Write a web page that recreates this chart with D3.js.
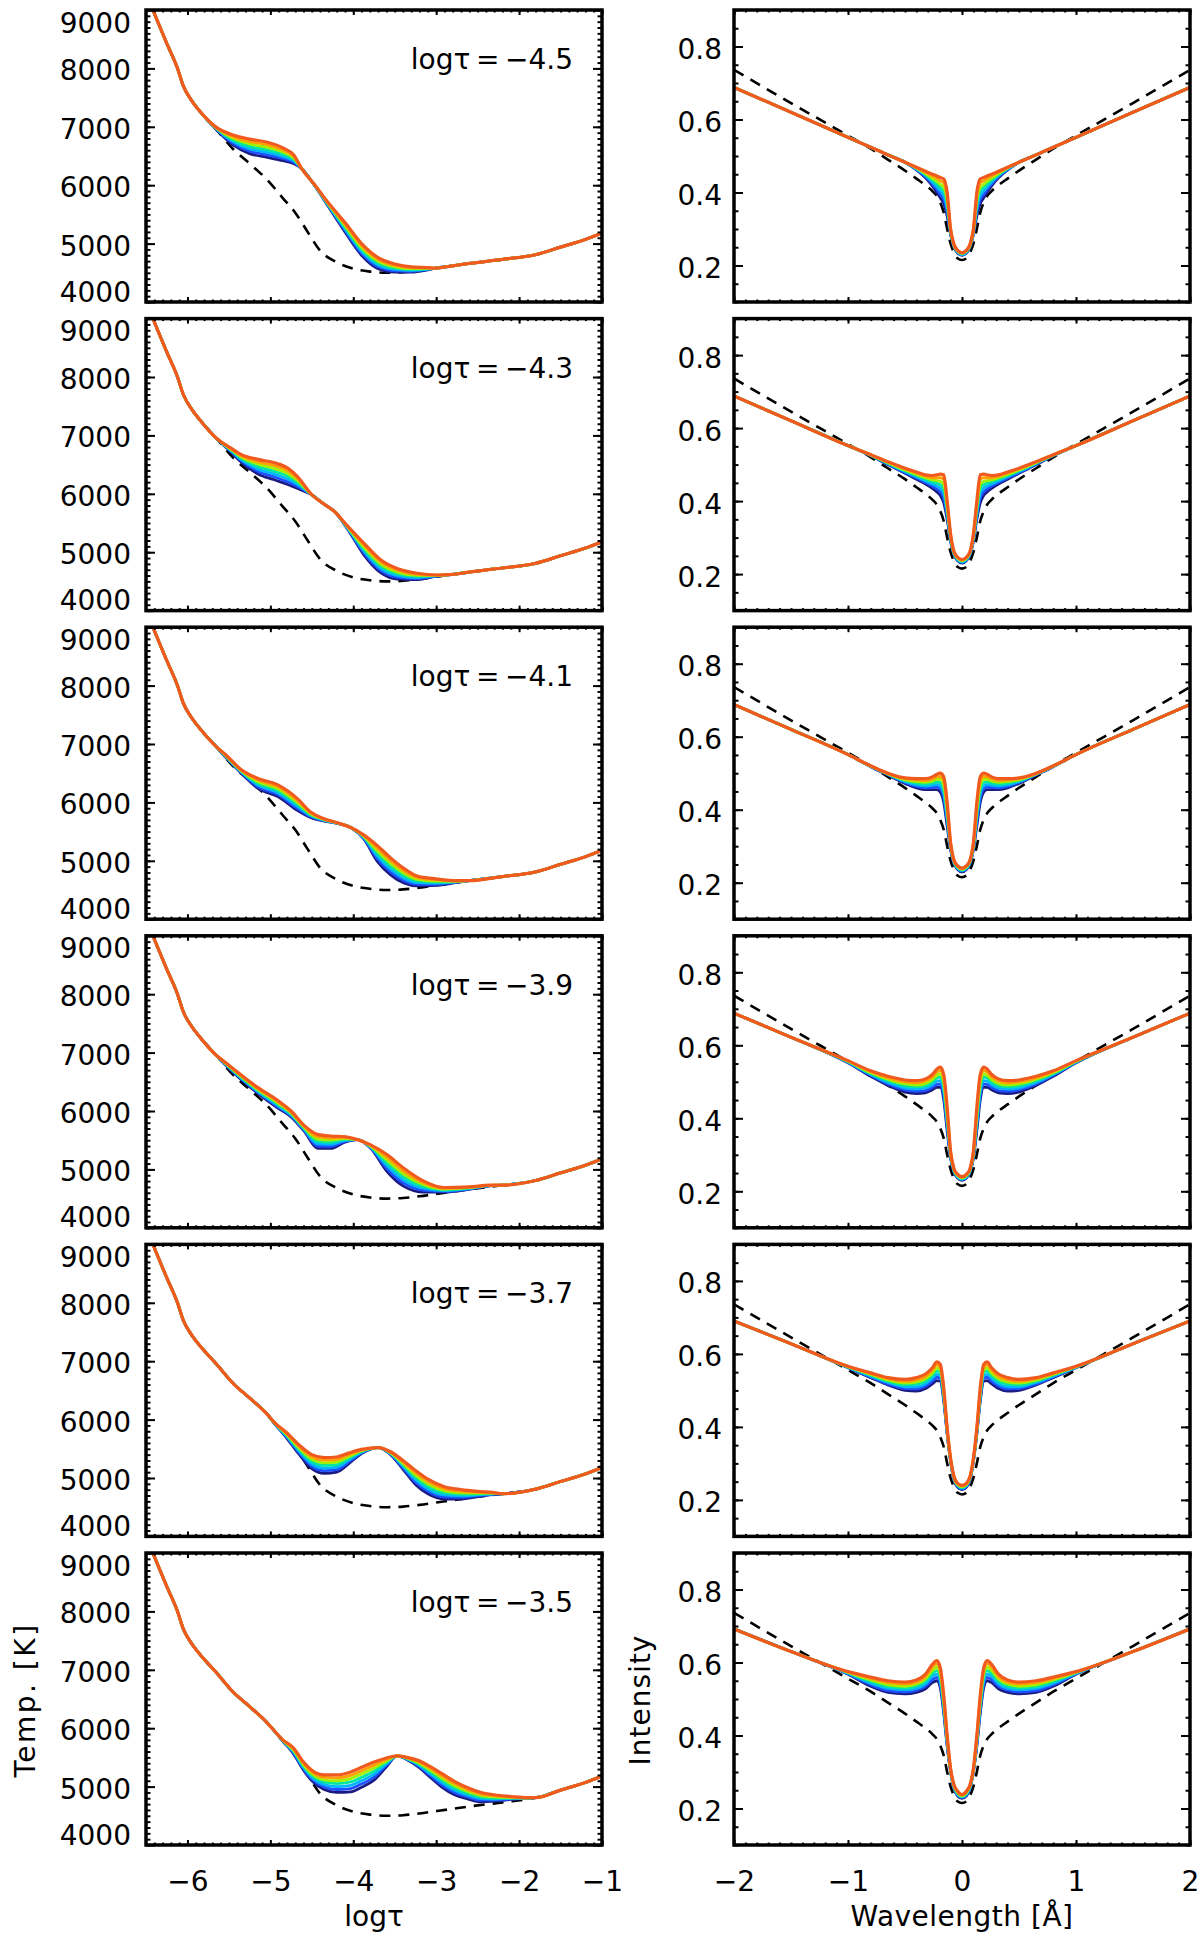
<!DOCTYPE html>
<html><head><meta charset="utf-8">
<script src="https://cdn.jsdelivr.net/npm/d3@7"></script>
<style>
body{margin:0;background:#fff}
svg text{font-family:"DejaVu Sans",sans-serif;fill:#000}
</style>
</head><body>
<svg id="c" width="1200" height="1939"></svg>
<script>
// ---------- DATA ----------
// Tick labels / values
const tempTicks = [4000,5000,6000,7000,8000,9000];
const tauTicks = [-6,-5,-4,-3,-2,-1];
const intTicks = [0.2,0.4,0.6,0.8];
const lamTicks = [-2,-1,0,1,2];
const nodeLabels = ["−4.5","−4.3","−4.1","−3.9","−3.7","−3.5"];

// Reference (dashed) temperature stratification
const tauBase  = [-6.5,-6.25,-6.12,-6.05,-5.95,-5.85,-5.65,-5.45,-5.25,-5.05,-4.85,-4.7,-4.55,-4.4,-4.2,-4.0,-3.8,-3.6,-3.4,-3.2,-3.0,-2.8,-2.6,-2.2,-1.8,-1.5,-1.2,-1.0];
const tempBase = [9290,8430,8000,7700,7450,7265,6950,6620,6370,6110,5780,5530,5200,4880,4680,4570,4520,4500,4510,4540,4580,4620,4660,4730,4810,4940,5070,5180];

// Perturbed temperature curves (7 per panel, lowest -> highest), on panel grids
const tauP1 = [-5.65,-5.45,-5.25,-5.05,-4.85,-4.72,-4.62,-4.45,-4.33,-4.1,-3.9,-3.7,-3.5,-3.3,-3.1];
const tempP1 = [
 [6950,6690,6540,6480,6420,6370,6280,5960,5700,5200,4800,4570,4510,4510,4550],
 [6957,6718,6582,6523,6457,6395,6280,5963,5708,5227,4833,4602,4533,4525,4557],
 [6963,6747,6623,6567,6493,6420,6280,5967,5717,5253,4867,4633,4557,4540,4563],
 [6970,6775,6665,6610,6530,6445,6280,5970,5725,5280,4900,4665,4580,4555,4570],
 [6977,6803,6707,6653,6567,6470,6280,5973,5733,5307,4933,4697,4603,4570,4577],
 [6983,6832,6748,6697,6603,6495,6280,5977,5742,5333,4967,4728,4627,4585,4583],
 [6990,6860,6790,6740,6640,6520,6280,5980,5750,5360,5000,4760,4650,4600,4590]];
const tauP2 = [-5.45,-5.35,-5.15,-4.95,-4.79,-4.67,-4.51,-4.35,-4.23,-4.07,-3.87,-3.67,-3.47,-3.23,-2.99];
const tempP2 = [
 [6680,6540,6340,6240,6160,6090,5990,5820,5700,5400,4950,4650,4540,4530,4590],
 [6693,6562,6382,6288,6207,6123,5992,5820,5700,5408,4983,4687,4570,4548,4593],
 [6707,6583,6423,6337,6253,6157,5993,5820,5700,5417,5017,4723,4600,4567,4597],
 [6720,6605,6465,6385,6300,6190,5995,5820,5700,5425,5050,4760,4630,4585,4600],
 [6733,6627,6507,6433,6347,6223,5997,5820,5700,5433,5083,4797,4660,4603,4603],
 [6747,6648,6548,6482,6393,6257,5998,5820,5700,5442,5117,4833,4690,4622,4607],
 [6760,6670,6590,6530,6440,6290,6000,5820,5700,5450,5150,4870,4720,4640,4610]];
const tauP3 = [-5.55,-5.35,-5.15,-4.91,-4.67,-4.51,-4.35,-4.19,-4.03,-3.87,-3.71,-3.55,-3.39,-3.23,-3.0,-2.75];
const tempP3 = [
 [6790,6500,6240,6100,5860,5740,5680,5640,5570,5370,4990,4760,4620,4570,4580,4630],
 [6797,6510,6268,6133,5893,5755,5687,5642,5570,5382,5035,4808,4662,4598,4598,4635],
 [6803,6520,6297,6167,5927,5770,5693,5643,5570,5393,5080,4857,4703,4627,4617,4640],
 [6810,6530,6325,6200,5960,5785,5700,5645,5570,5405,5125,4905,4745,4655,4635,4645],
 [6817,6540,6353,6233,5993,5800,5707,5647,5570,5417,5170,4953,4787,4683,4653,4650],
 [6823,6550,6382,6267,6027,5815,5713,5648,5570,5428,5215,5002,4828,4712,4672,4655],
 [6830,6560,6410,6300,6060,5830,5720,5650,5570,5440,5260,5050,4870,4740,4690,4660]];
const tauP4 = [-5.55,-5.15,-4.91,-4.75,-4.59,-4.43,-4.27,-4.11,-3.95,-3.79,-3.59,-3.39,-3.15,-2.91,-2.6,-2.35];
const tempP4 = [
 [6800,6300,6050,5900,5650,5360,5360,5460,5510,5360,4960,4710,4610,4610,4660,4720],
 [6807,6317,6072,5917,5667,5400,5395,5477,5510,5370,5008,4762,4642,4623,4667,4722],
 [6813,6333,6093,5933,5683,5440,5430,5493,5510,5380,5057,4813,4673,4637,4673,4723],
 [6820,6350,6115,5950,5700,5480,5465,5510,5510,5390,5105,4865,4705,4650,4680,4725],
 [6827,6367,6137,5967,5717,5520,5500,5527,5510,5400,5153,4917,4737,4663,4687,4727],
 [6833,6383,6158,5983,5733,5560,5535,5543,5510,5410,5202,4968,4768,4677,4693,4728],
 [6840,6400,6180,6000,5750,5600,5570,5560,5510,5420,5250,5020,4800,4690,4700,4730]];
const tauP5 = [-4.95,-4.8,-4.65,-4.5,-4.35,-4.2,-4.05,-3.9,-3.7,-3.55,-3.4,-3.25,-3.1,-2.9,-2.7,-2.5,-2.3];
const tempP5 = [
 [5930,5680,5400,5160,5080,5100,5250,5420,5520,5400,5150,4890,4730,4640,4640,4680,4720],
 [5933,5695,5427,5200,5125,5143,5280,5432,5520,5408,5175,4930,4772,4675,4667,4695,4725],
 [5937,5710,5453,5240,5170,5187,5310,5443,5520,5417,5200,4970,4813,4710,4693,4710,4730],
 [5940,5725,5480,5280,5215,5230,5340,5455,5520,5425,5225,5010,4855,4745,4720,4725,4735],
 [5943,5740,5507,5320,5260,5273,5370,5467,5520,5433,5250,5050,4897,4780,4747,4740,4740],
 [5947,5755,5533,5360,5305,5317,5400,5478,5520,5442,5275,5090,4938,4815,4773,4755,4745],
 [5950,5770,5560,5400,5350,5360,5430,5490,5520,5450,5300,5130,4980,4850,4800,4770,4750]];
const tauP6 = [-4.85,-4.72,-4.6,-4.5,-4.35,-4.2,-4.03,-3.9,-3.75,-3.6,-3.47,-3.35,-3.22,-3.08,-2.94,-2.78,-2.62,-2.46,-2.3,-2.1,-1.9];
const tempP6 = [
 [5780,5560,5280,5100,4950,4900,4910,4990,5110,5340,5525,5460,5340,5170,5000,4860,4790,4740,4750,4780,4800],
 [5783,5577,5303,5130,4992,4950,4967,5047,5162,5365,5525,5467,5358,5200,5038,4898,4822,4767,4768,4788,4802],
 [5787,5593,5327,5160,5033,5000,5023,5103,5213,5390,5525,5473,5377,5230,5077,4937,4853,4793,4787,4797,4803],
 [5790,5610,5350,5190,5075,5050,5080,5160,5265,5415,5525,5480,5395,5260,5115,4975,4885,4820,4805,4805,4805],
 [5793,5627,5373,5220,5117,5100,5137,5217,5317,5440,5525,5487,5413,5290,5153,5013,4917,4847,4823,4813,4807],
 [5797,5643,5397,5250,5158,5150,5193,5273,5368,5465,5525,5493,5432,5320,5192,5052,4948,4873,4842,4822,4808],
 [5800,5660,5420,5280,5200,5200,5250,5330,5420,5490,5525,5500,5450,5350,5230,5090,4980,4900,4860,4830,4810]];

// Line profiles (symmetric in wavelength): half-profile grid |Δλ| in Å
const lamHalf = [0,.04,.07,.1,.13,.16,.19,.22,.26,.32,.4,.5,.65,.8,1,1.5,2];
const intBase = [.215,.220,.235,.260,.300,.345,.372,.390,.404,.420,.438,.460,.490,.520,.556,.645,.736];
const intP1 = [
 [.228,.235,.250,.285,.335,.370,.385,.400,.418,.440,.462,.483,.503,.524,.551,.620,.688],
 [.229,.236,.251,.288,.346,.381,.394,.408,.423,.443,.463,.483,.503,.524,.551,.620,.688],
 [.230,.237,.253,.290,.357,.392,.404,.415,.429,.446,.464,.483,.503,.524,.551,.620,.688],
 [.232,.239,.254,.293,.368,.404,.413,.423,.434,.449,.466,.483,.503,.524,.551,.620,.688],
 [.233,.240,.255,.295,.378,.415,.422,.430,.439,.452,.467,.483,.503,.524,.551,.620,.688],
 [.234,.241,.257,.298,.389,.426,.432,.438,.445,.455,.468,.483,.503,.524,.551,.620,.688],
 [.235,.242,.258,.300,.400,.437,.441,.445,.450,.458,.469,.483,.503,.524,.551,.620,.688]];
const intP2 = [
 [.230,.237,.252,.290,.350,.395,.415,.425,.435,.447,.460,.476,.500,.524,.552,.620,.688],
 [.232,.239,.254,.293,.358,.408,.425,.433,.441,.451,.463,.478,.501,.525,.552,.620,.688],
 [.233,.240,.255,.297,.367,.421,.435,.441,.447,.455,.467,.481,.503,.525,.552,.620,.688],
 [.235,.242,.257,.300,.375,.434,.445,.449,.453,.460,.470,.483,.504,.526,.552,.620,.688],
 [.237,.244,.259,.303,.383,.446,.454,.456,.458,.464,.473,.485,.505,.526,.552,.620,.688],
 [.238,.245,.260,.307,.392,.459,.464,.464,.464,.468,.477,.488,.507,.527,.552,.620,.688],
 [.240,.247,.262,.310,.400,.472,.474,.472,.470,.472,.480,.490,.508,.527,.552,.620,.688]];
const intP3 = [
 [.230,.237,.252,.290,.355,.420,.448,.455,.455,.455,.460,.472,.495,.518,.551,.620,.688],
 [.232,.239,.254,.293,.366,.432,.457,.462,.461,.460,.464,.475,.496,.518,.551,.620,.688],
 [.233,.240,.255,.297,.377,.443,.465,.469,.467,.465,.468,.477,.497,.519,.551,.620,.688],
 [.235,.242,.257,.300,.388,.455,.474,.476,.473,.470,.473,.480,.498,.519,.551,.620,.688],
 [.237,.244,.259,.303,.398,.467,.483,.483,.478,.475,.477,.482,.498,.519,.551,.620,.688],
 [.238,.245,.260,.307,.409,.478,.491,.490,.484,.480,.481,.485,.499,.520,.551,.620,.688],
 [.240,.247,.262,.310,.420,.490,.500,.497,.490,.485,.485,.487,.500,.520,.551,.620,.688]];
const intP4 = [
 [.230,.237,.252,.290,.365,.450,.485,.485,.478,.470,.468,.472,.490,.515,.552,.622,.688],
 [.232,.239,.254,.293,.376,.462,.494,.493,.485,.476,.474,.478,.494,.518,.553,.622,.688],
 [.233,.240,.255,.297,.387,.473,.503,.502,.492,.483,.480,.483,.498,.520,.554,.622,.688],
 [.235,.242,.257,.300,.398,.485,.513,.510,.499,.489,.486,.489,.503,.523,.555,.622,.688],
 [.237,.244,.259,.303,.408,.497,.522,.518,.506,.495,.491,.494,.507,.525,.556,.622,.688],
 [.238,.245,.260,.307,.419,.508,.531,.527,.513,.502,.497,.500,.511,.528,.557,.622,.688],
 [.240,.247,.262,.310,.430,.520,.540,.535,.520,.508,.503,.505,.515,.530,.558,.622,.688]];
const intP5 = [
 [.228,.235,.255,.305,.380,.470,.525,.527,.518,.505,.498,.500,.515,.535,.562,.628,.690],
 [.230,.237,.257,.307,.383,.476,.533,.536,.525,.512,.504,.505,.518,.537,.563,.628,.690],
 [.232,.239,.258,.308,.386,.482,.540,.544,.533,.518,.510,.510,.522,.539,.563,.628,.690],
 [.234,.241,.260,.310,.389,.489,.548,.553,.540,.525,.517,.515,.525,.542,.564,.628,.690],
 [.236,.242,.261,.311,.391,.495,.556,.561,.547,.532,.523,.520,.528,.544,.565,.628,.690],
 [.238,.244,.263,.313,.394,.501,.563,.570,.555,.538,.529,.525,.532,.546,.565,.628,.690],
 [.240,.246,.264,.314,.397,.507,.571,.578,.562,.545,.535,.530,.535,.548,.566,.628,.690]];
const intP6 = [
 [.228,.235,.255,.300,.370,.460,.530,.550,.545,.528,.518,.514,.518,.535,.568,.630,.692],
 [.230,.237,.257,.302,.375,.468,.539,.559,.553,.535,.524,.519,.523,.539,.569,.630,.692],
 [.232,.239,.258,.303,.380,.477,.548,.568,.562,.541,.529,.525,.529,.543,.570,.630,.692],
 [.233,.242,.260,.305,.385,.485,.558,.578,.570,.548,.535,.530,.534,.548,.572,.630,.692],
 [.235,.244,.262,.307,.390,.493,.567,.587,.578,.555,.541,.535,.539,.552,.573,.630,.692],
 [.237,.246,.263,.308,.395,.502,.576,.596,.587,.561,.546,.541,.545,.556,.574,.630,.692],
 [.238,.248,.265,.310,.400,.510,.585,.605,.595,.568,.552,.546,.550,.560,.575,.630,.692]];

const curveColors = ["#1a1a80","#1e50ff","#00b4ff","#00e6a0","#a0f000","#ffa000","#f05a1e"];

// ---------- LAYOUT ----------
const W = 1200, H = 1939, FS = 28;
const LX = [146, 602], RX = [734, 1190];
const rowTop = k => 10 + 308.6 * k, rowH = 292;
const panels = [
 {tau: tauP1, temp: tempP1, inten: intP1},
 {tau: tauP2, temp: tempP2, inten: intP2},
 {tau: tauP3, temp: tempP3, inten: intP3},
 {tau: tauP4, temp: tempP4, inten: intP4},
 {tau: tauP5, temp: tempP5, inten: intP5},
 {tau: tauP6, temp: tempP6, inten: intP6}];

const svg = d3.select("#c");
svg.append("rect").attr("width", W).attr("height", H).attr("fill", "#fff");
const defs = svg.append("defs");

function leftPoints(tau, temps) {
  const a = tau[0], b = tau[tau.length - 1], pts = [];
  tauBase.forEach((t, i) => { if (t < a - 1e-9) pts.push([t, tempBase[i]]); });
  tau.forEach((t, i) => pts.push([t, temps[i]]));
  tauBase.forEach((t, i) => { if (t > b + 1e-9) pts.push([t, tempBase[i]]); });
  return pts;
}
function rightPoints(vals) {
  const pts = [];
  for (let i = lamHalf.length - 1; i > 0; i--) pts.push([-lamHalf[i], vals[i]]);
  lamHalf.forEach((l, i) => pts.push([l, vals[i]]));
  return pts;
}
const minorRange = (a, b, s) => d3.range(Math.round((b - a) / s) + 1).map(i => +(a + i * s).toFixed(4));

function axes(g, x, y, top, bot, x0, x1, o) {
  const style = sel => sel.attr("font-size", FS).attr("font-family", '"DejaVu Sans",sans-serif');
  const gl = g.append("g").attr("transform", `translate(${x0},0)`)
    .call(d3.axisLeft(y).tickValues(o.yMajor).tickSize(-9).tickPadding(o.yPad).tickFormat(o.yFmt));
  style(gl);
  gl.selectAll("text").attr("dy", 0).attr("y", d => o.yOff(d));
  g.append("g").attr("transform", `translate(${x0},0)`).call(d3.axisLeft(y).tickValues(o.yMinor).tickSize(-4.5).tickFormat(""));
  g.append("g").attr("transform", `translate(${x1},0)`).call(d3.axisRight(y).tickValues(o.yMajor).tickSize(-9).tickFormat(""));
  g.append("g").attr("transform", `translate(${x1},0)`).call(d3.axisRight(y).tickValues(o.yMinor).tickSize(-4.5).tickFormat(""));
  const gb = g.append("g").attr("transform", `translate(0,${bot})`)
    .call(d3.axisBottom(x).tickValues(o.xMajor).tickSize(-5).tickPadding(26).tickFormat(o.showX ? d3.format("d") : ""));
  style(gb);
  g.append("g").attr("transform", `translate(0,${bot})`).call(d3.axisBottom(x).tickValues(o.xMinor).tickSize(-2.5).tickFormat(""));
  g.append("g").attr("transform", `translate(0,${top})`).call(d3.axisTop(x).tickValues(o.xMajor).tickSize(-5).tickFormat(""));
  g.append("g").attr("transform", `translate(0,${top})`).call(d3.axisTop(x).tickValues(o.xMinor).tickSize(-2.5).tickFormat(""));
  g.selectAll(".domain").remove();
  g.selectAll(".tick line").attr("stroke", "#000").attr("stroke-width", 2);
  g.selectAll(".tick text").attr("fill", "#000");
  g.append("rect").attr("x", x0).attr("y", top).attr("width", x1 - x0).attr("height", bot - top)
    .attr("fill", "none").attr("stroke", "#000").attr("stroke-width", 3.5);
}

panels.forEach((p, k) => {
  const top = rowTop(k), bot = top + rowH, last = k === panels.length - 1;

  // ----- left: temperature -----
  const xT = d3.scaleLinear().domain([-6.5, -1]).range(LX);
  const yT = d3.scaleLinear().domain([4000, 9000]).range([bot, top]);
  const gL = svg.append("g");
  defs.append("clipPath").attr("id", "cl" + k).append("rect")
    .attr("x", LX[0]).attr("y", top).attr("width", LX[1] - LX[0]).attr("height", rowH);
  const lineT = d3.line().x(d => xT(d[0])).y(d => yT(d[1])).curve(d3.curveMonotoneX);
  const cL = gL.append("g").attr("clip-path", `url(#cl${k})`);
  cL.append("path").attr("d", lineT(tauBase.map((t, i) => [t, tempBase[i]])))
    .attr("fill", "none").attr("stroke", "#000").attr("stroke-width", 2.6).attr("stroke-dasharray", "11,8");
  p.temp.forEach((row, j) => {
    cL.append("path").attr("d", lineT(leftPoints(p.tau, row)))
      .attr("fill", "none").attr("stroke", curveColors[j]).attr("stroke-width", j === 6 ? 3.2 : 2.8)
      .attr("stroke-linejoin", "round");
  });
  axes(gL, xT, yT, top, bot, LX[0], LX[1], {
    yMajor: tempTicks, yMinor: minorRange(4000, 9000, 100), yPad: 15, yFmt: d3.format("d"),
    yOff: d => d === 9000 ? 22 : (d === 4000 ? -1 : 11.5),
    xMajor: tauTicks, xMinor: minorRange(-6.5, -1, 0.1), showX: last});
  gL.append("text").attr("x", 573).attr("y", top + 59).attr("text-anchor", "end")
    .attr("font-size", FS).text("logτ\u2009=\u2009" + nodeLabels[k]);

  // ----- right: intensity -----
  const xI = d3.scaleLinear().domain([-2, 2]).range(RX);
  const yI = d3.scaleLinear().domain([0.1, 0.9]).range([bot, top]);
  const gR = svg.append("g");
  defs.append("clipPath").attr("id", "cr" + k).append("rect")
    .attr("x", RX[0]).attr("y", top).attr("width", RX[1] - RX[0]).attr("height", rowH);
  const lineI = d3.line().x(d => xI(d[0])).y(d => yI(d[1])).curve(d3.curveMonotoneX);
  const cR = gR.append("g").attr("clip-path", `url(#cr${k})`);
  cR.append("path").attr("d", lineI(rightPoints(intBase)))
    .attr("fill", "none").attr("stroke", "#000").attr("stroke-width", 2.6).attr("stroke-dasharray", "11,8");
  p.inten.forEach((row, j) => {
    cR.append("path").attr("d", lineI(rightPoints(row)))
      .attr("fill", "none").attr("stroke", curveColors[j]).attr("stroke-width", j === 6 ? 3.2 : 2.8)
      .attr("stroke-linejoin", "round");
  });
  axes(gR, xI, yI, top, bot, RX[0], RX[1], {
    yMajor: intTicks, yMinor: minorRange(0.1, 0.9, 0.05), yPad: 12, yFmt: d3.format(".1f"),
    yOff: d => 12,
    xMajor: lamTicks, xMinor: minorRange(-2, 2, 0.1), showX: last});
});

// axis titles
svg.append("text").attr("x", 374).attr("y", 1926).attr("text-anchor", "middle").attr("font-size", FS).text("logτ");
svg.append("text").attr("x", 962).attr("y", 1926).attr("text-anchor", "middle").attr("font-size", FS)
  .attr("letter-spacing", 0.5).text("Wavelength [Å]");
svg.append("text").attr("transform", "translate(35,1700) rotate(-90)").attr("text-anchor", "middle")
  .attr("font-size", FS).attr("letter-spacing", 2.5).text("Temp. [K]");
svg.append("text").attr("transform", "translate(650,1700) rotate(-90)").attr("text-anchor", "middle")
  .attr("font-size", FS).attr("letter-spacing", 1).text("Intensity");
</script>
</body></html>
